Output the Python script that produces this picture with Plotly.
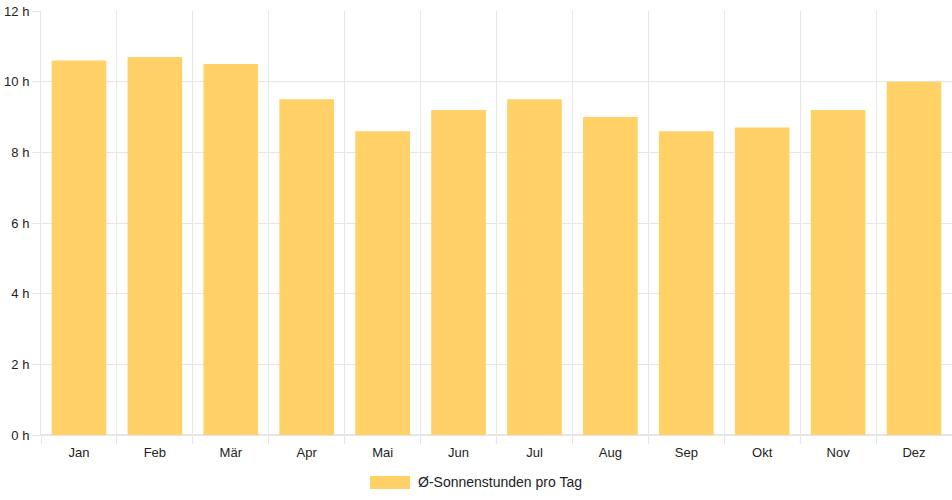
import plotly.graph_objects as go

months = ["Jan", "Feb", "Mär", "Apr", "Mai", "Jun", "Jul", "Aug", "Sep", "Okt", "Nov", "Dez"]
sun_hours = [10.6, 10.7, 10.5, 9.5, 8.6, 9.2, 9.5, 9.0, 8.6, 8.7, 9.2, 10.0]
series_name = "Ø-Sonnenstunden pro Tag"
y_ticks = [0, 2, 4, 6, 8, 10, 12]
y_tick_labels = ["0 h", "2 h", "4 h", "6 h", "8 h", "10 h", "12 h"]

BAR = "#FFD166"
GRID = "#e6e6e6"
FONT = "Liberation Sans, Arial, sans-serif"

fig = go.Figure()
fig.add_trace(go.Bar(x=months, y=sun_hours, name=series_name, marker=dict(color=BAR, line=dict(width=0)),
                     showlegend=False, hovertemplate="%{x}: %{y} h<extra></extra>"))

W, H = 952, 500
L, R, T, B = 41, 0, 11, 65

fig.update_layout(
    width=W, height=H,
    margin=dict(l=L, r=R, t=T, b=B, autoexpand=False),
    plot_bgcolor="white", paper_bgcolor="white",
    bargap=0.28,
    font=dict(family=FONT, size=13, color="#333"),
    xaxis=dict(type="category", tickson="boundaries", showgrid=True, gridcolor=GRID, gridwidth=1,
               ticks="outside", ticklen=8, tickcolor=GRID, showline=True, linecolor=GRID,
               ticklabelstandoff=5, tickfont=dict(size=13, color="#222")),
    yaxis=dict(range=[0, 12], tickvals=y_ticks, ticktext=y_tick_labels, showgrid=True, gridcolor=GRID,
               ticks="outside", ticklen=8, tickcolor=GRID, showline=True, linecolor=GRID,
               zeroline=True, zerolinecolor=GRID, tickfont=dict(size=13, color="#222")),
)

# legend drawn manually (wide swatch like the reference)
fig.add_shape(type="rect", xref="paper", yref="paper",
              x0=(370 - L) / (W - L - R), x1=(410 - L) / (W - L - R),
              y0=(H - B - 489) / (H - T - B), y1=(H - B - 476) / (H - T - B),
              fillcolor=BAR, line=dict(width=0))
fig.add_annotation(text=series_name, xref="paper", yref="paper",
                   x=(416 - L) / (W - L - R), y=(H - B - 482) / (H - T - B),
                   xanchor="left", yanchor="middle", showarrow=False,
                   font=dict(size=14, color="#222"))

fig.write_html("out.html", config={"displayModeBar": False},
               post_script="document.body.style.margin='0';document.body.style.overflow='hidden';")
